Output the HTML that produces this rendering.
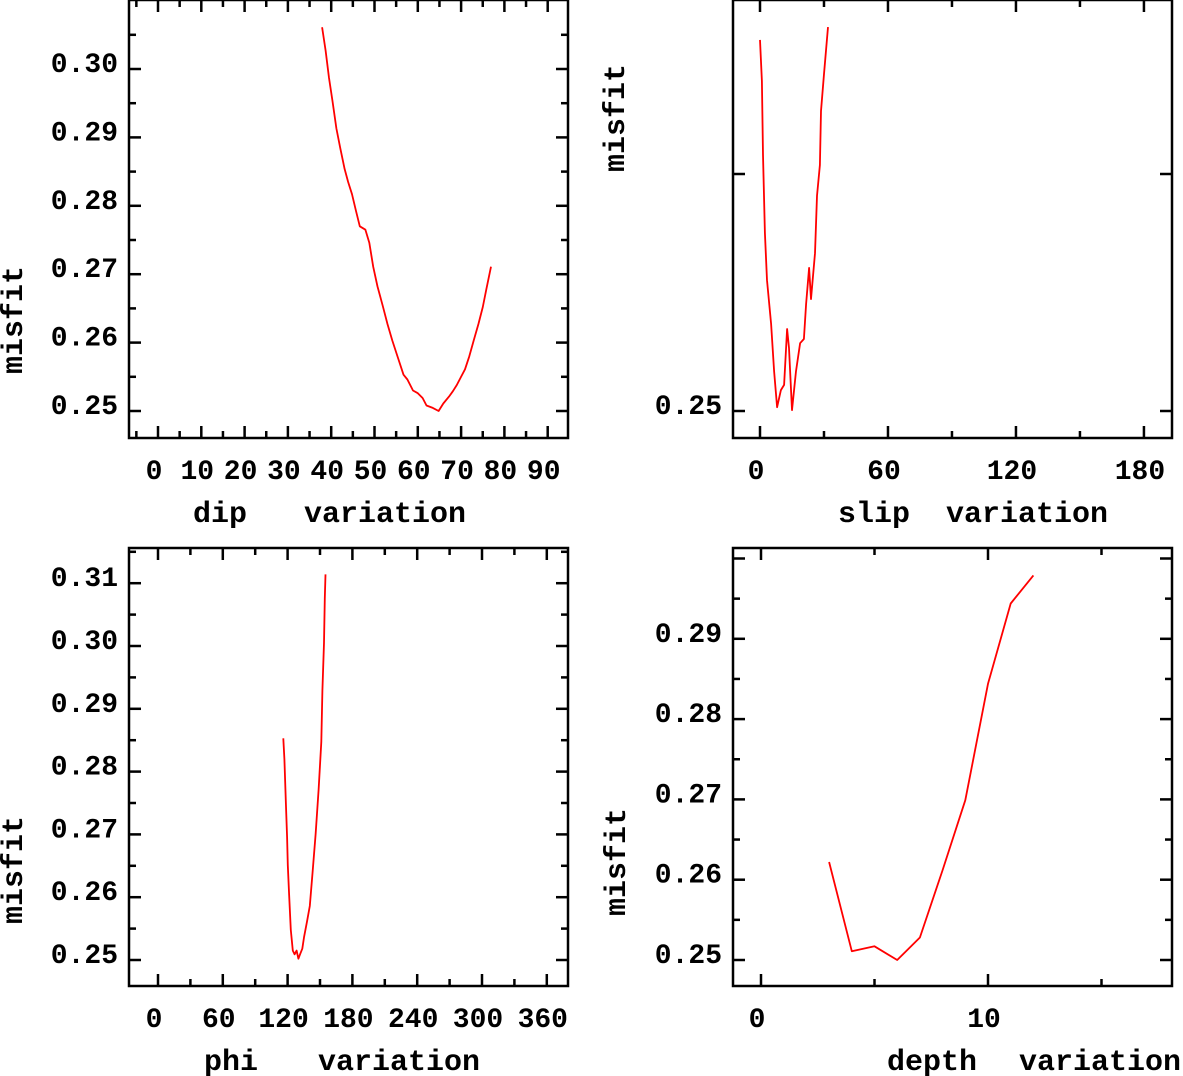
<!DOCTYPE html>
<html><head><meta charset="utf-8"><style>
html,body{margin:0;padding:0;background:#fff;}
svg{display:block;}
text{font-family:"Liberation Mono",monospace;font-weight:bold;fill:#000;}
</style></head><body>
<svg id="fig" width="1183" height="1076" viewBox="0 0 1183 1076" xmlns="http://www.w3.org/2000/svg"></svg>
<script>
// dip panel data
const dipX = [37.9,38.7,39.5,40.3,41.2,42.1,43.1,43.9,44.8,45.7,46.6,47.9,48.8,49.7,50.7,51.9,53.0,54.1,55.4,56.7,57.6,58.9,60.0,61.1,62.0,63.3,64.8,65.9,67.2,68.1,69.0,69.9,70.9,71.9,72.9,74.0,75.0,75.8,76.9];
const dipY = [0.3061,0.3027,0.2987,0.2953,0.2913,0.2884,0.2854,0.2835,0.2817,0.2793,0.2770,0.2765,0.2746,0.2711,0.2682,0.2654,0.2627,0.2603,0.2578,0.2553,0.2546,0.2530,0.2526,0.2519,0.2508,0.2505,0.2500,0.2511,0.2521,0.2529,0.2538,0.2549,0.2561,0.2580,0.2603,0.2627,0.2652,0.2677,0.2711];
const dipTicks = ["0","10","20","30","40","50","60","70","80","90"];
// slip panel data
const slipX = [0,0.9,1.4,2.3,3.3,5.2,6.6,8.0,9.8,11.3,12.7,13.6,15.0,16.9,18.8,20.6,21.6,23.0,23.9,25.8,26.7,28.1,28.6,30.0,31.9];
const slipY = [0.3283,0.3196,0.3040,0.2876,0.2776,0.2684,0.2584,0.2508,0.2544,0.2555,0.2673,0.2633,0.2502,0.2584,0.2643,0.2652,0.2726,0.2802,0.2736,0.2833,0.2954,0.3019,0.3133,0.3211,0.3310];
const slipTicks = ["0","60","120","180"];
// phi panel data
const phiX = [116.0,117.0,118.4,119.5,120.2,121.3,123.0,124.8,126.5,128.3,130.0,131.8,133.6,135.3,138.1,140.6,143.1,145.9,148.7,151.2,152.2,153.7,154.4,155.1];
const phiY = [0.2853,0.2820,0.2749,0.2695,0.2651,0.2608,0.2548,0.2515,0.2509,0.2515,0.2502,0.2510,0.2518,0.2537,0.2562,0.2586,0.2638,0.2700,0.2771,0.2847,0.2929,0.3005,0.3076,0.3114];
const phiTicks = ["0","60","120","180","240","300","360"];
// depth panel data
const depthX = [3,4,5,6,7,8,9,10,11,12];
const depthY = [0.2622,0.2511,0.2517,0.2500,0.2528,0.2612,0.2699,0.2844,0.2944,0.2979];
const depthTicks = ["0","10"];
const yTickTL = ["0.25","0.26","0.27","0.28","0.29","0.30"];
const yTickTR = ["0.25"];
const yTickBL = ["0.25","0.26","0.27","0.28","0.29","0.30","0.31"];
const yTickBR = ["0.25","0.26","0.27","0.28","0.29"];

const NS = "http://www.w3.org/2000/svg";
const svg = document.getElementById('fig');
function mk(tag, attrs, parent){
  const e = document.createElementNS(NS, tag);
  for (const k in attrs) e.setAttribute(k, attrs[k]);
  (parent||svg).appendChild(e);
  return e;
}
function panel(p){
  const g = mk('g', {});
  
  
  const sx = v => p.x0 + v * p.kx;
  const sy = v => p.y0 - (v - 0.25) * p.ky;
  // frame
  const fr = mk('rect', {x:p.L, y:p.T, width:p.R-p.L, height:p.B-p.T, fill:'none', stroke:'#000', 'stroke-width':2.5}, g);
  
  
  // x ticks
  for (let v = p.xmin; v <= p.xmax + 1e-9; v += p.xminor) {
    const px = sx(v);
    if (px <= p.L + 1 || px >= p.R - 1) continue;
    const major = Math.abs(v / p.xmajor - Math.round(v / p.xmajor)) < 1e-6;
    const len = major ? 12 : 7;
    mk('line', {x1:px, y1:p.B, x2:px, y2:p.B-len, stroke:'#000','stroke-width':2.5}, g);
    mk('line', {x1:px, y1:p.T, x2:px, y2:p.T+len, stroke:'#000','stroke-width':2.5}, g);
  }
  // y ticks
  for (let v = p.ymin; v <= p.ymax + 1e-9; v += p.yminor) {
    const py = sy(v);
    if (py <= p.T + 1 || py >= p.B - 1) continue;
    const major = Math.abs(v / p.ymajor - Math.round(v / p.ymajor)) < 1e-6;
    const len = major ? 12 : 7;
    mk('line', {x1:p.L, y1:py, x2:p.L+len, y2:py, stroke:'#000','stroke-width':2.5}, g);
    mk('line', {x1:p.R, y1:py, x2:p.R-len, y2:py, stroke:'#000','stroke-width':2.5}, g);
  }
  // x tick labels
  p.xticks.forEach(t => {
    const tx = mk('text', {x:sx(parseFloat(t)) - 4, y:p.B+41, 'font-size':28, 'text-anchor':'middle'}, g);
    tx.textContent = t;
    
    
  });
  // y tick labels
  p.yticks.forEach(t => {
    const ty = mk('text', {x:p.L-11, y:sy(parseFloat(t))+3, 'font-size':28, 'text-anchor':'end'}, g);
    ty.textContent = t;
    
    
  });
  // axis titles
  const t1 = mk('text', {x:p.t1x, y:p.B+84, 'font-size':30}, g);
  t1.textContent = p.t1;
  
  
  const t2 = mk('text', {x:p.t2x, y:p.B+84, 'font-size':30}, g);
  t2.textContent = 'variation';
  
  
  const yt = mk('text', {x:0, y:0, 'font-size':30, 'text-anchor':'middle', transform:'translate('+p.ytx+','+p.yty+') rotate(-90)'}, g);
  yt.textContent = 'misfit';
  
  
  // series
  const pts = p.xs.map((v,i) => sx(v).toFixed(1) + ',' + sy(p.ys[i]).toFixed(1)).join(' ');
  const pl = mk('polyline', {points:pts, fill:'none', stroke:'#ff0000', 'stroke-width':1.8, 'stroke-linejoin':'round'}, g);
  
  
}
panel({name:'dip-panel', L:129,R:568,T:0,B:438, x0:158,kx:4.33, y0:411,ky:6840,
  xmin:-10,xmax:100,xminor:5,xmajor:10, ymin:0.245,ymax:0.315,yminor:0.005,ymajor:0.01,
  xticks:dipTicks, yticks:yTickTL, xs:dipX, ys:dipY, t1:'dip', t1x:193, t2x:304, ytx:22, yty:320});
panel({name:'slip-panel', L:733,R:1172,T:0,B:438, x0:760,kx:2.133, y0:411,ky:4740,
  xmin:-30,xmax:210,xminor:30,xmajor:60, ymin:0.25,ymax:0.30,yminor:0.05,ymajor:0.05,
  xticks:slipTicks, yticks:yTickTR, xs:slipX, ys:slipY, t1:'slip', t1x:838, t2x:946, ytx:624, yty:118});
panel({name:'phi-panel', L:129,R:568,T:548,B:986, x0:158,kx:1.08, y0:960,ky:6280,
  xmin:-30,xmax:390,xminor:30,xmajor:60, ymin:0.245,ymax:0.32,yminor:0.005,ymajor:0.01,
  xticks:phiTicks, yticks:yTickBL, xs:phiX, ys:phiY, t1:'phi', t1x:204, t2x:318, ytx:22, yty:870});
panel({name:'depth-panel', L:733,R:1172,T:548,B:986, x0:761,kx:22.7, y0:960,ky:8030,
  xmin:-5,xmax:20,xminor:5,xmajor:10, ymin:0.245,ymax:0.30,yminor:0.005,ymajor:0.01,
  xticks:depthTicks, yticks:yTickBR, xs:depthX, ys:depthY, t1:'depth', t1x:887, t2x:1019, ytx:625, yty:862});
</script>
</body></html>
